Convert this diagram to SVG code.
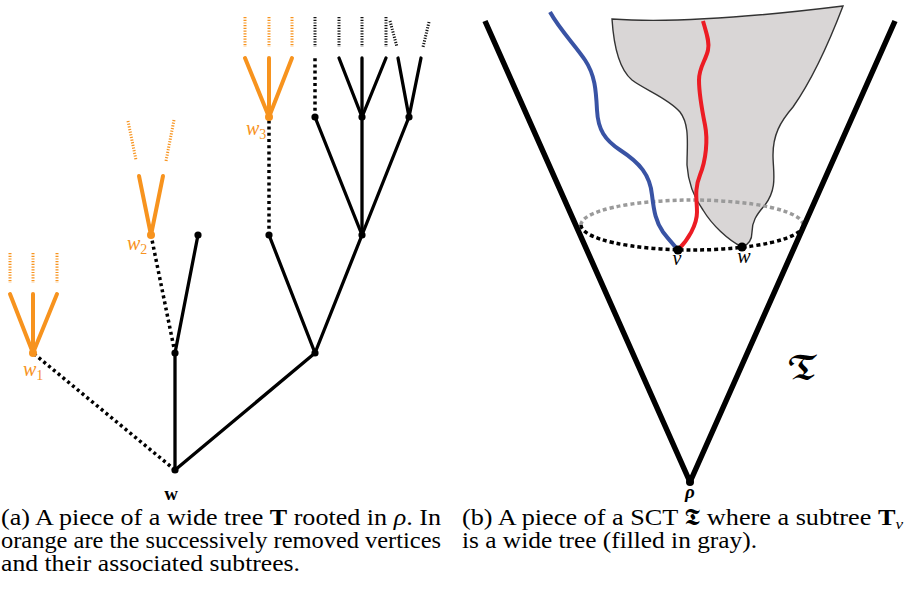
<svg xmlns="http://www.w3.org/2000/svg" width="905" height="590" viewBox="0 0 905 590">
<style>
.s{stroke:#000;stroke-width:3.3;fill:none;stroke-linecap:round}
.d{stroke:#000;stroke-width:3.5;fill:none;stroke-dasharray:3 3.2}
.o{stroke:#f7931e;stroke-width:4;fill:none;stroke-linecap:round}
.fb{stroke:#111;stroke-width:3;fill:none;stroke-dasharray:1.2 1.5}
.fo{stroke:#f7931e;stroke-width:3;fill:none;stroke-dasharray:1.2 1.5}
.nb{fill:#000}
.no{fill:#f7931e}
.lab{font-family:"Liberation Serif","DejaVu Serif",serif;font-style:italic;font-size:20px}
.cap{font-family:"Liberation Serif","DejaVu Serif",serif;font-size:23px;fill:#000}
</style>
<rect width="905" height="590" fill="#fff"/>
<!-- left panel connectors -->
<g id="connectors-a">
<line class="s" x1="175" y1="470" x2="175" y2="353"/>
<line class="s" x1="175" y1="470" x2="315" y2="353"/>
<line class="d" x1="175" y1="470" x2="33" y2="353"/>
<line class="s" x1="175" y1="353" x2="198" y2="235"/>
<line class="d" x1="175" y1="353" x2="151" y2="235"/>
<line class="s" x1="315" y1="353" x2="269" y2="235"/>
<line class="s" x1="315" y1="353" x2="362" y2="235"/>
<line class="d" x1="269" y1="235" x2="269" y2="117"/>
<line class="s" x1="362" y1="235" x2="315" y2="117"/>
<line class="s" x1="362" y1="235" x2="362" y2="117"/>
<line class="s" x1="362" y1="235" x2="409" y2="117"/>
<line class="d" x1="315" y1="117" x2="315" y2="58"/>
<line class="s" x1="362" y1="117" x2="339" y2="58"/>
<line class="s" x1="362" y1="117" x2="362" y2="58"/>
<line class="s" x1="362" y1="117" x2="386" y2="58"/>
<line class="s" x1="409" y1="117" x2="398" y2="58"/>
<line class="s" x1="409" y1="117" x2="421" y2="58"/>
<line class="fb" x1="315" y1="17" x2="315" y2="47"/>
<line class="fb" x1="339" y1="17" x2="339" y2="47"/>
<line class="fb" x1="362" y1="17" x2="362" y2="47"/>
<line class="fb" x1="386" y1="17" x2="386" y2="47"/>
<line class="fb" x1="390" y1="21" x2="397" y2="47"/>
<line class="fb" x1="429" y1="22" x2="423" y2="47"/>
<!-- orange subtrees -->
<line class="o" x1="33" y1="353" x2="10" y2="294"/>
<line class="o" x1="33" y1="353" x2="33" y2="294"/>
<line class="o" x1="33" y1="353" x2="57" y2="294"/>
<line class="fo" x1="10" y1="253" x2="10" y2="283"/>
<line class="fo" x1="33" y1="253" x2="33" y2="283"/>
<line class="fo" x1="57" y1="253" x2="57" y2="283"/>
<line class="o" x1="151" y1="235" x2="139" y2="176"/>
<line class="o" x1="151" y1="235" x2="163" y2="176"/>
<line class="fo" x1="128" y1="121" x2="136" y2="160"/>
<line class="fo" x1="174" y1="120" x2="166" y2="161"/>
<line class="o" x1="269" y1="117" x2="245" y2="58"/>
<line class="o" x1="269" y1="117" x2="269" y2="58"/>
<line class="o" x1="269" y1="117" x2="292" y2="58"/>
<line class="fo" x1="245" y1="17" x2="245" y2="47"/>
<line class="fo" x1="269" y1="17" x2="269" y2="47"/>
<line class="fo" x1="292" y1="17" x2="292" y2="47"/>
</g>
<g id="node-w"><circle class="nb" cx="175" cy="470" r="3.6"/><text x="171" y="500" font-family="Liberation Serif, serif" font-weight="bold" font-size="19" text-anchor="middle">w</text></g>
<g id="node-a"><circle class="nb" cx="175" cy="353" r="3.6"/></g>
<g id="node-b"><circle class="nb" cx="315" cy="353" r="3.6"/></g>
<g id="node-a1"><circle class="nb" cx="198" cy="235" r="3.6"/></g>
<g id="node-b1"><circle class="nb" cx="269" cy="235" r="3.6"/></g>
<g id="node-c"><circle class="nb" cx="362" cy="235" r="3.6"/></g>
<g id="node-d1"><circle class="nb" cx="315" cy="117" r="3.6"/></g>
<g id="node-d2"><circle class="nb" cx="362" cy="117" r="3.6"/></g>
<g id="node-d3"><circle class="nb" cx="409" cy="117" r="3.6"/></g>
<g id="node-w1"><circle class="no" cx="33" cy="353" r="4"/><text class="lab" x="23" y="376" fill="#f7931e">w<tspan font-style="normal" font-size="14" dy="4">1</tspan></text></g>
<g id="node-w2"><circle class="no" cx="151" cy="235" r="4"/><text class="lab" x="127" y="250" fill="#f7931e">w<tspan font-style="normal" font-size="14" dy="4">2</tspan></text></g>
<g id="node-w3"><circle class="no" cx="269" cy="117" r="4"/><text class="lab" x="246" y="135" fill="#f7931e">w<tspan font-style="normal" font-size="14" dy="4">3</tspan></text></g>

<!-- right panel -->
<g id="wide-subtree">
<path d="M612,19 C680,24 770,15 843,6 C830,40 812,80 793,107 C780,122 773,135 773,155 C773,172 778,188 765,205 C756,215 752,222 752,232 C752,240 748,245 742,247 C728,240 712,225 703,210 C692,195 688,180 687,165 C687,145 690,125 680,112 C668,98 645,90 632,80 C620,70 614,50 612,19 Z" fill="#d9d6d6" stroke="#333" stroke-width="1.4"/>
</g>
<g id="connectors-b">
<path d="M581,225 A111,25 0 0 1 803,225" fill="none" stroke="#9a9a9a" stroke-width="3.5" stroke-dasharray="4 3"/>
<path d="M550,12 C560,30 575,45 585,60 C595,75 596,90 597,110 C598,130 605,140 620,150 C640,163 650,175 652,195 C654,212 656,222 663,232 C669,240 674,245 678,250" fill="none" stroke="#3953a4" stroke-width="4"/>
<path d="M703,21 C706,32 710,42 708,50 C706,60 699,67 699,80 C699,95 702,110 705,125 C708,140 706,160 700,175 C694,190 697,200 697,212 C697,225 688,240 678,250" fill="none" stroke="#ec1c24" stroke-width="4"/>
<path d="M581,225 A111,25 0 0 0 803,225" fill="none" stroke="#000" stroke-width="3.5" stroke-dasharray="4 3"/>
<polyline points="485,21 690,482 895,21" fill="none" stroke="#000" stroke-width="5.5" stroke-linejoin="round" stroke-linecap="butt"/>
</g>
<g id="node-v"><circle class="nb" cx="678" cy="250" r="4.6"/><text class="lab" x="677" y="265" text-anchor="middle">v</text></g>
<g id="node-w-b"><circle class="nb" cx="742" cy="247" r="4.6"/><text class="lab" x="744" y="263" text-anchor="middle">w</text></g>
<g id="node-rho"><circle class="nb" cx="690" cy="482" r="4"/><text x="690" y="498" font-family="Liberation Serif, serif" font-style="italic" font-weight="bold" font-size="19" text-anchor="middle">ρ</text></g>
<text x="803" y="379" font-family="DejaVu Math TeX Gyre, DejaVu Serif, DejaVu Sans, serif" font-size="32" text-anchor="middle">𝕿</text>

<!-- captions -->
<text class="cap" x="1" y="525" textLength="440" lengthAdjust="spacingAndGlyphs">(a) A piece of a wide tree <tspan font-weight="bold">T</tspan> rooted in <tspan font-style="italic">ρ</tspan>. In</text>
<text class="cap" x="1" y="548" textLength="440" lengthAdjust="spacingAndGlyphs">orange are the successively removed vertices</text>
<text class="cap" x="1" y="571" textLength="299" lengthAdjust="spacingAndGlyphs">and their associated subtrees.</text>
<text class="cap" x="462" y="525" textLength="441" lengthAdjust="spacingAndGlyphs">(b) A piece of a SCT 𝕿 where a subtree <tspan font-weight="bold">T</tspan><tspan font-style="italic" font-size="15" dy="4">v</tspan></text>
<text class="cap" x="462" y="548" textLength="295" lengthAdjust="spacingAndGlyphs">is a wide tree (filled in gray).</text>
</svg>
